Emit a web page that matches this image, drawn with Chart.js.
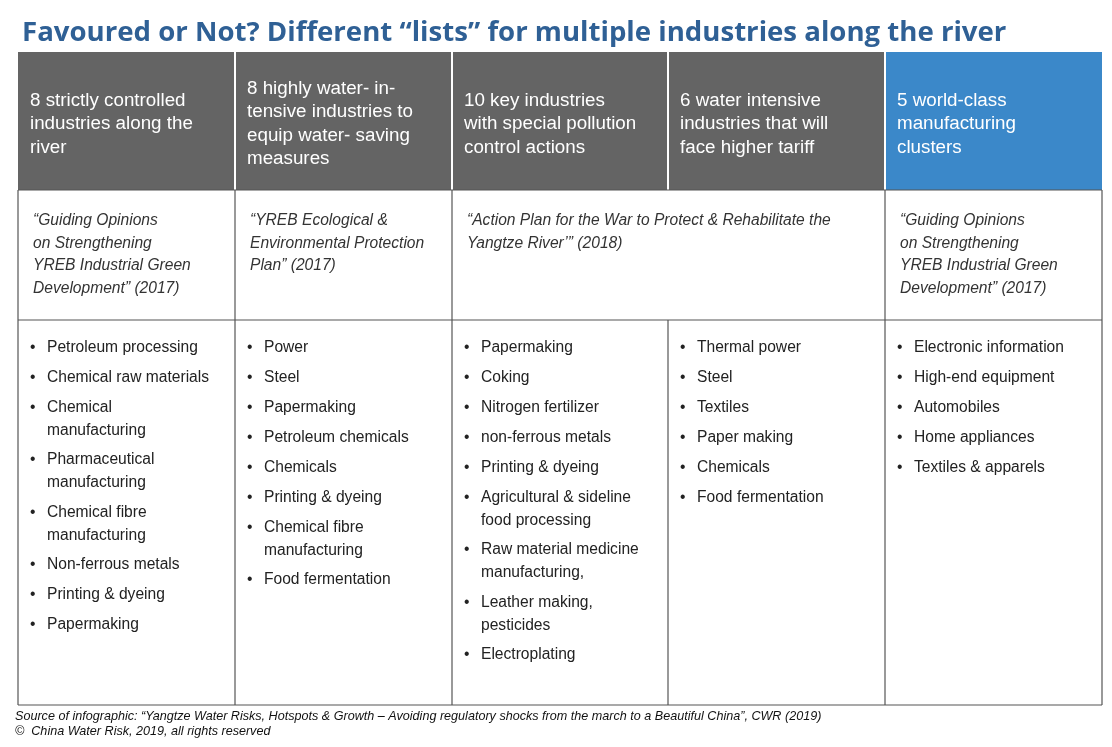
<!DOCTYPE html>
<html>
<head>
<meta charset="utf-8">
<script src="https://cdn.jsdelivr.net/npm/chart.js@4"></script>
<style>
  html, body { margin: 0; padding: 0; background: #fff; }
  #wrap { position: relative; width: 1112px; height: 747px; }
</style>
</head>
<body>
<div id="wrap"><canvas id="myChart" width="1112" height="747"></canvas></div>
<script>
// table content
var title = "Favoured or Not? Different \u201clists\u201d for multiple industries along the river";

var headers = [
  "8 strictly controlled\nindustries along the\nriver",
  "8 highly water- in-\ntensive industries to\nequip water- saving\nmeasures",
  "10 key industries\nwith special pollution\ncontrol actions",
  "6 water intensive\nindustries that will\nface higher tariff",
  "5 world-class\nmanufacturing\nclusters"
];
var headerColors = ["#646464", "#646464", "#646464", "#646464", "#3b88c9"];

// [first column, last column, text]
var sources = [
  [0, 0, "\u201cGuiding Opinions\non Strengthening\nYREB Industrial Green\nDevelopment\u201d (2017)"],
  [1, 1, "\u201cYREB Ecological &\nEnvironmental Protection\nPlan\u201d (2017)"],
  [2, 3, "\u201cAction Plan for the War to Protect & Rehabilitate the\nYangtze River\u2019\u201d (2018)"],
  [4, 4, "\u201cGuiding Opinions\non Strengthening\nYREB Industrial Green\nDevelopment\u201d (2017)"]
];

var list0 = ["Petroleum processing", "Chemical raw materials", "Chemical\nmanufacturing", "Pharmaceutical\nmanufacturing", "Chemical fibre\nmanufacturing", "Non-ferrous metals", "Printing & dyeing", "Papermaking"];
var list1 = ["Power", "Steel", "Papermaking", "Petroleum chemicals", "Chemicals", "Printing & dyeing", "Chemical fibre\nmanufacturing", "Food fermentation"];
var list2 = ["Papermaking", "Coking", "Nitrogen fertilizer", "non-ferrous metals", "Printing & dyeing", "Agricultural & sideline\nfood processing", "Raw material medicine\nmanufacturing,", "Leather making,\npesticides", "Electroplating"];
var list3 = ["Thermal power", "Steel", "Textiles", "Paper making", "Chemicals", "Food fermentation"];
var list4 = ["Electronic information", "High-end equipment", "Automobiles", "Home appliances", "Textiles & apparels"];
var lists = [list0, list1, list2, list3, list4];

var footer = [
  "Source of infographic: \u201cYangtze Water Risks, Hotspots & Growth \u2013 Avoiding regulatory shocks from the march to a Beautiful China\u201d, CWR (2019)",
  "\u00a9  China Water Risk, 2019, all rights reserved"
];

// grid in page units
var colEdges = [18, 235, 452, 668, 885, 1102];
var rowEdges = [52, 190, 320, 705];

var tablePlugin = {
  id: "table",
  afterDraw: function (chart) {
    var c = chart.ctx, xs = chart.scales.x, ys = chart.scales.y;
    var X = function (v) { return xs.getPixelForValue(v); };
    var Y = function (v) { return ys.getPixelForValue(v); };
    c.save();
    c.textBaseline = "middle";

    // title
    c.fillStyle = "#2f6095";
    c.font = "bold 27.6px 'Open Sans'";
    c.fillText(title, X(22), Y(33));

    // header cells
    headers.forEach(function (h, i) {
      c.fillStyle = headerColors[i];
      c.fillRect(X(colEdges[i]), Y(rowEdges[0]), X(colEdges[i + 1]) - X(colEdges[i]), Y(rowEdges[1]) - Y(rowEdges[0]));
      c.fillStyle = "#fff";
      c.font = "18.8px 'Liberation Sans'";
      var top = h.split("\n").length > 3 ? 89 : 101;
      h.split("\n").forEach(function (ln, k) {
        c.fillText(ln, X(colEdges[i] + 12), Y(top + k * 23.3));
      });
    });
    // white separators between header cells
    c.strokeStyle = "#fff";
    c.lineWidth = 2;
    for (var i = 1; i < 5; i++) {
      c.beginPath(); c.moveTo(X(colEdges[i]), Y(rowEdges[0])); c.lineTo(X(colEdges[i]), Y(rowEdges[1])); c.stroke();
    }

    // sources
    c.fillStyle = "#333";
    c.font = "italic 15.6px 'Liberation Sans'";
    sources.forEach(function (s) {
      s[2].split("\n").forEach(function (ln, k) {
        c.fillText(ln, X(colEdges[s[0]] + 15), Y(221 + k * 22.5));
      });
    });

    // lists
    c.font = "15.6px 'Liberation Sans'";
    c.fillStyle = "#222";
    lists.forEach(function (items, i) {
      var y = 347.5;
      items.forEach(function (it) {
        c.fillText("\u2022", X(colEdges[i] + 12), Y(y));
        it.split("\n").forEach(function (ln, k) {
          c.fillText(ln, X(colEdges[i] + 29), Y(y + k * 23));
        });
        y += 30 + (it.split("\n").length - 1) * 22.5;
      });
    });

    // borders
    c.strokeStyle = "#555";
    c.lineWidth = 1.2;
    var line = function (x1, y1, x2, y2) { c.beginPath(); c.moveTo(X(x1), Y(y1)); c.lineTo(X(x2), Y(y2)); c.stroke(); };
    line(colEdges[0], rowEdges[1], colEdges[0], rowEdges[3]);
    line(colEdges[5], rowEdges[1], colEdges[5], rowEdges[3]);
    line(colEdges[0], rowEdges[3], colEdges[5], rowEdges[3]);
    line(colEdges[0], rowEdges[1], colEdges[5], rowEdges[1]);
    line(colEdges[0], rowEdges[2], colEdges[5], rowEdges[2]);
    [1, 2, 4].forEach(function (i) { line(colEdges[i], rowEdges[1], colEdges[i], rowEdges[3]); });
    line(colEdges[3], rowEdges[2], colEdges[3], rowEdges[3]);

    // footer
    c.fillStyle = "#111";
    c.font = "italic 12.6px 'Liberation Sans'";
    c.fillText(footer[0], X(15), Y(716));
    c.fillText(footer[1], X(15), Y(731));
    c.restore();
  }
};

var ctx = document.getElementById("myChart");
var chart = new Chart(ctx, {
  type: "scatter",
  data: { datasets: [{ data: [] }] },
  options: {
    responsive: false,
    animation: false,
    layout: { padding: 0 },
    plugins: { legend: { display: false }, tooltip: { enabled: false } },
    scales: {
      x: { type: "linear", min: 0, max: 1112, display: false },
      y: { type: "linear", min: 0, max: 747, reverse: true, display: false }
    }
  },
  plugins: [tablePlugin]
});
</script>
</body>
</html>
